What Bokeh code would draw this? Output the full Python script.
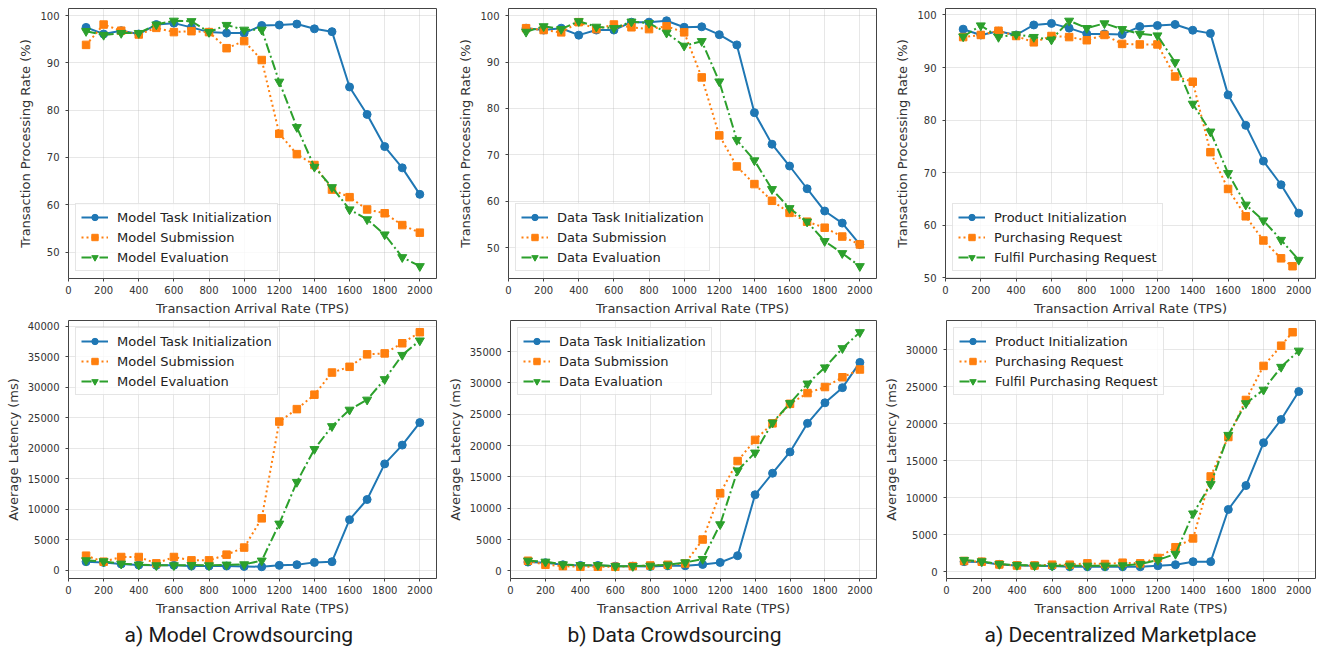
from bokeh.plotting import figure
from bokeh.layouts import row, column
from bokeh.models import Range1d, SingleIntervalTicker, Title
from bokeh.embed import file_html
from bokeh.resources import INLINE

# ---------------- data ----------------
tps = [100, 200, 300, 400, 500, 600, 700, 800, 900, 1000,
       1100, 1200, 1300, 1400, 1500, 1600, 1700, 1800, 1900, 2000]
tps_req = [100, 200, 300, 400, 500, 600, 700, 800, 900, 1000,
           1100, 1200, 1300, 1400, 1500, 1600, 1700, 1800, 1900, 1965]

# Processing rate (%)
model_rate_init = [97.5, 96.1, 96.8, 96.1, 98.1, 98.4, 97.5, 96.5, 96.3, 96.3,
                   97.9, 98.0, 98.2, 97.2, 96.6, 84.9, 79.1, 72.3, 67.8, 62.2]
model_rate_sub = [93.8, 98.1, 96.8, 96.0, 97.4, 96.5, 96.7, 96.5, 93.1, 94.6,
                  90.6, 75.0, 70.7, 68.4, 63.2, 61.6, 59.0, 58.2, 55.7, 54.1]
model_rate_eval = [96.7, 95.9, 96.3, 96.3, 98.1, 98.9, 98.8, 96.5, 98.0, 97.0,
                   97.0, 86.0, 76.4, 68.0, 63.7, 59.0, 56.9, 53.7, 48.9, 47.0]

data_rate_init = [97.3, 96.9, 97.3, 95.8, 96.9, 96.9, 98.6, 98.6, 98.9, 97.5,
                  97.6, 95.9, 93.7, 79.1, 72.3, 67.6, 62.7, 57.9, 55.3, 50.7]
data_rate_sub = [97.3, 96.9, 96.4, 98.6, 97.1, 98.1, 97.5, 97.1, 97.7, 96.4,
                 86.7, 74.2, 67.5, 63.7, 60.1, 57.5, 55.6, 54.3, 52.4, 50.7]
data_rate_eval = [96.5, 97.7, 97.1, 98.8, 97.6, 97.3, 98.7, 98.4, 96.3, 93.5,
                  94.5, 85.8, 73.2, 68.8, 62.6, 58.5, 55.6, 51.4, 48.8, 46.0]

mkt_rate_init = [97.3, 96.2, 96.9, 96.2, 98.1, 98.4, 97.5, 96.4, 96.4, 96.3,
                 97.8, 98.0, 98.2, 97.1, 96.5, 84.8, 79.0, 72.2, 67.7, 62.3]
mkt_rate_req = [95.8, 96.2, 97.0, 96.0, 94.8, 96.0, 95.8, 95.2, 96.2, 94.5,
                94.4, 94.4, 88.3, 87.3, 73.9, 66.9, 61.7, 57.1, 53.7, 52.2]
mkt_rate_fulfil = [95.9, 98.0, 95.8, 96.3, 95.8, 95.3, 98.9, 97.5, 98.4, 97.3,
                   96.4, 96.1, 91.0, 83.1, 77.8, 69.9, 63.9, 60.9, 57.2, 53.4]

# Average latency (ms)
model_lat_init = [1430, 1320, 1050, 880, 830, 830, 720, 720, 720, 660,
                  600, 830, 940, 1320, 1430, 8320, 11630, 17470, 20550, 24240]
model_lat_sub = [2420, 1430, 2200, 2200, 1160, 2200, 1650, 1650, 2590, 3750,
                 8540, 24410, 26450, 28820, 32450, 33390, 35430, 35590, 37250, 39060]
model_lat_eval = [1650, 1490, 1100, 940, 830, 830, 880, 830, 940, 990,
                  1600, 7660, 14490, 19890, 23640, 26340, 27990, 31350, 35320, 37690]

data_lat_init = [1400, 1290, 970, 860, 860, 750, 750, 700, 810, 810,
                 1020, 1340, 2420, 12150, 15590, 18980, 23550, 26830, 29250, 33280]
data_lat_sub = [1610, 970, 750, 650, 650, 650, 750, 860, 970, 1180,
                5000, 12370, 17530, 20910, 23550, 26670, 28390, 29350, 30910, 32150]
data_lat_eval = [1610, 1450, 1020, 910, 910, 750, 750, 810, 970, 1340,
                 1880, 7420, 16020, 18870, 23660, 26770, 29890, 32470, 35540, 38100]

mkt_lat_init = [1370, 1320, 1000, 860, 820, 770, 680, 680, 680, 680,
                680, 820, 960, 1370, 1370, 8420, 11650, 17430, 20570, 24350]
mkt_lat_req = [1460, 1370, 1000, 860, 860, 960, 960, 1140, 1050, 1230,
               1140, 1870, 3320, 4510, 12880, 18210, 23210, 27810, 30540, 32360]
mkt_lat_fulfil = [1590, 1410, 1050, 910, 860, 820, 820, 820, 820, 860,
                  1050, 1590, 2410, 7870, 11830, 18480, 22760, 24580, 27670, 29860]

labels_model = ["Model Task Initialization", "Model Submission", "Model Evaluation"]
labels_data = ["Data Task Initialization", "Data Submission", "Data Evaluation"]
labels_mkt = ["Product Initialization", "Purchasing Request", "Fulfil Purchasing Request"]

captions = ["a) Model Crowdsourcing", "b) Data Crowdsourcing", "a) Decentralized Marketplace"]

# ---------------- styling ----------------
COLORS = ["#1f77b4", "#ff7f0e", "#2ca02c"]
DASHES = ["solid", "2 3", "10 3 2 3"]
MARKERS = ["circle", "square", "inverted_triangle"]
MSIZES = [8, 7.5, 9]
FONT = "DejaVu Sans"

col_w = [444, 436, 438]
col_left = [68, 64, 65]
col_right = [8, 4, 3]
cap_offset = [56, 57, 38]


def make_plot(col, top, xs_list, ys_list, labels, ylabel, yint, caption=None):
    allv = [v for ys in ys_list for v in ys]
    lo, hi = min(allv), max(allv)
    pad = 0.05 * (hi - lo)
    if top:
        h, bt, bb = 318, 8, 40
    else:
        h, bt, bb = 330, 2, 66
    p = figure(width=col_w[col], height=h, output_backend="svg", toolbar_location=None,
               x_range=Range1d(0, 2095), y_range=Range1d(lo - pad, hi + pad),
               min_border_left=col_left[col], min_border_right=col_right[col],
               min_border_top=bt, min_border_bottom=bb)
    p.background_fill_color = "white"
    p.border_fill_color = "white"
    p.outline_line_color = "#444444"
    p.outline_line_width = 1
    p.xaxis.ticker = SingleIntervalTicker(interval=200)
    p.yaxis.ticker = SingleIntervalTicker(interval=yint)
    for ax in (p.xaxis[0], p.yaxis[0]):
        ax.axis_line_color = None
        ax.major_tick_line_color = "#444444"
        ax.major_tick_out = 3
        ax.major_tick_in = 0
        ax.minor_tick_line_color = None
        ax.major_label_text_font = FONT
        ax.major_label_text_font_size = "10px"
        ax.major_label_text_color = "#333333"
        ax.axis_label_text_font = FONT
        ax.axis_label_text_font_size = "13px"
        ax.axis_label_text_font_style = "normal"
        ax.axis_label_text_color = "#333333"
    p.xaxis.major_label_standoff = 3
    p.xaxis.axis_label_standoff = 4
    p.yaxis.major_label_standoff = 5
    p.yaxis.axis_label_standoff = 4
    p.xaxis.axis_label = "Transaction Arrival Rate (TPS)"
    p.yaxis.axis_label = ylabel
    p.grid.grid_line_color = "#b0b0b0"
    p.grid.grid_line_alpha = 0.3
    p.grid.grid_line_width = 1

    for i, (xs, ys, lab) in enumerate(zip(xs_list, ys_list, labels)):
        p.line(xs, ys, line_color=COLORS[i], line_width=2, line_dash=DASHES[i], legend_label=lab)
        p.scatter(xs, ys, marker=MARKERS[i], size=MSIZES[i], fill_color=COLORS[i],
                  line_color=COLORS[i], legend_label=lab)

    lg = p.legend[0]
    lg.location = "bottom_left" if top else "top_left"
    lg.label_text_font = FONT
    lg.label_text_font_size = "13px"
    lg.label_text_color = "#222222"
    lg.glyph_width = 27
    lg.glyph_height = 16
    lg.label_height = 16
    lg.label_standoff = 9
    lg.spacing = 4
    lg.padding = 5
    lg.margin = 7
    lg.border_line_color = "#cccccc"
    lg.border_line_width = 1
    lg.background_fill_color = "white"
    lg.background_fill_alpha = 0.8

    if caption is not None:
        t = Title(text=caption, align="left", text_font="Roboto", text_font_size="21px",
                  text_font_style="normal", text_color="#1a1a1a", offset=cap_offset[col],
                  standoff=4)
        p.add_layout(t, "below")
    return p


p1 = make_plot(0, True, [tps, tps, tps], [model_rate_init, model_rate_sub, model_rate_eval],
               labels_model, "Transaction Processing Rate (%)", 10)
p2 = make_plot(1, True, [tps, tps, tps], [data_rate_init, data_rate_sub, data_rate_eval],
               labels_data, "Transaction Processing Rate (%)", 10)
p3 = make_plot(2, True, [tps, tps_req, tps], [mkt_rate_init, mkt_rate_req, mkt_rate_fulfil],
               labels_mkt, "Transaction Processing Rate (%)", 10)
p4 = make_plot(0, False, [tps, tps, tps], [model_lat_init, model_lat_sub, model_lat_eval],
               labels_model, "Average Latency (ms)", 5000, captions[0])
p5 = make_plot(1, False, [tps, tps, tps], [data_lat_init, data_lat_sub, data_lat_eval],
               labels_data, "Average Latency (ms)", 5000, captions[1])
p6 = make_plot(2, False, [tps, tps_req, tps], [mkt_lat_init, mkt_lat_req, mkt_lat_fulfil],
               labels_mkt, "Average Latency (ms)", 5000, captions[2])

layout = column(row(p1, p2, p3), row(p4, p5, p6))
open("out.html", "w").write(file_html(layout, INLINE))
